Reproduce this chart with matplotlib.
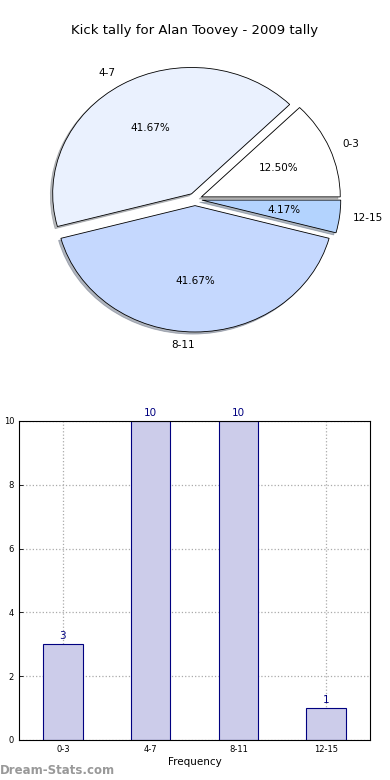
import matplotlib
matplotlib.use("Agg")
import matplotlib.pyplot as plt

TITLE = "Kick tally for Alan Toovey - 2009 tally"
CATEGORIES = ["0-3", "4-7", "8-11", "12-15"]
COUNTS = [3, 10, 10, 1]
PIE_COLORS = ["#ffffff", "#eaf1fe", "#c5d8fe", "#b3d3fe"]
EXPLODE = [0.05, 0.05, 0.05, 0.05]

BAR_FACE = "#ccccea"
BAR_EDGE = "#000080"

fig = plt.figure(figsize=(3.9, 7.8), dpi=100)

# pie on top
ax1 = fig.add_axes([0.055, 0.542, 0.89, 0.405])
wedges, texts, autotexts = ax1.pie(
    COUNTS,
    labels=CATEGORIES,
    colors=PIE_COLORS,
    explode=EXPLODE,
    autopct="%.2f%%",
    shadow={"ox": -0.012, "oy": -0.012, "shade": 0.5},
    startangle=0,
    counterclock=True,
    wedgeprops={"edgecolor": "black", "linewidth": 0.6},
    textprops={"fontsize": 7.5},
)
ax1.set_aspect("auto")
ax1.set_xlim(-1.25, 1.25)
ax1.set_ylim(-1.25, 1.25)
fig.text(0.5, 0.961, TITLE, ha="center", va="center", fontsize=9.5)

# bar chart below
ax2 = fig.add_axes([0.0487, 0.0513, 0.9, 0.409])
x = list(range(len(CATEGORIES)))
bars = ax2.bar(x, COUNTS, width=0.45, color=BAR_FACE, edgecolor=BAR_EDGE,
               linewidth=0.8, zorder=2)
for xi, v in zip(x, COUNTS):
    ax2.text(xi, v + 0.1, str(v), ha="center", va="bottom",
             color=BAR_EDGE, fontsize=7.5)
ax2.set_xlim(-0.5, 3.5)
ax2.set_ylim(0, 10)
ax2.set_xticks(x)
ax2.set_xticklabels(CATEGORIES)
ax2.set_yticks([0, 2, 4, 6, 8, 10])
ax2.tick_params(labelsize=6, direction="in", length=3, width=0.6)
ax2.grid(True, linestyle=":", color="#aaaaaa", linewidth=0.9, zorder=0)
ax2.set_axisbelow(True)
ax2.set_xlabel("Frequency", fontsize=7.5, labelpad=2)
ax2.set_ylabel("Total Kick Tally", fontsize=6.5)
ax2.yaxis.set_label_coords(-0.06, 0.5)
for s in ax2.spines.values():
    s.set_linewidth(0.8)

fig.text(0.0, 0.012, "Dream-Stats.com", ha="left", va="center",
         color="#999999", fontsize=8.5, fontweight="bold")

fig.savefig("out.png", dpi=100)
